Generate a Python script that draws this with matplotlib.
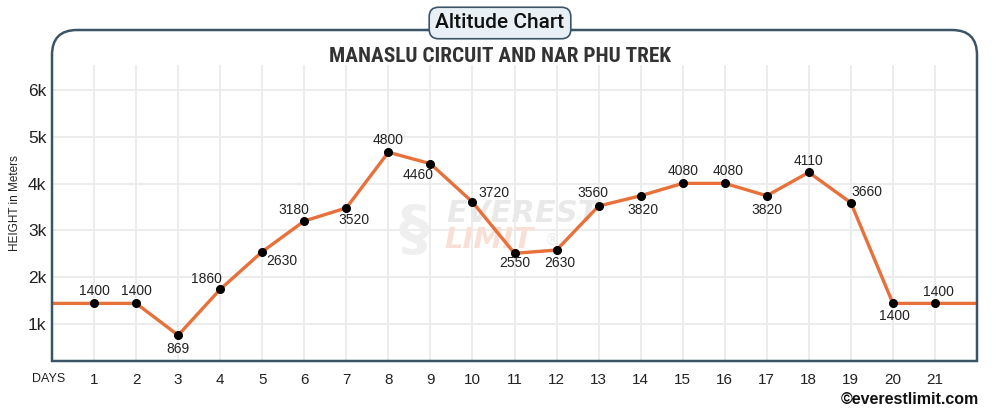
import numpy as np
import matplotlib
matplotlib.use("Agg")
import matplotlib.pyplot as plt
from matplotlib.path import Path
from matplotlib.patches import PathPatch
from matplotlib import font_manager

# data
days = list(range(1, 22))
heights = [1440, 1440, 760, 1740, 2545, 3200, 3480, 4670, 4425, 3605,
           2510, 2580, 3520, 3740, 4005, 4005, 3740, 4240, 3590, 1440, 1440]
labels = ["1400", "1400", "869", "1860", "2630", "3180", "3520", "4800", "4460", "3720",
          "2550", "2630", "3560", "3820", "4080", "4080", "3820", "4110", "3660", "1400", "1400"]
yticks = [1000, 2000, 3000, 4000, 5000, 6000]
ytick_labels = ["1k", "2k", "3k", "4k", "5k", "6k"]

# label offsets in pixels (dx, dy up)
offs = [(0, 12), (0, 12), (0, -14), (-14, 10), (20, -9), (-10, 11), (8, -12), (0, 12),
        (-12, -11), (22, 9), (0, -10), (3, -13), (-6, 13), (2, -14), (0, 12), (3, 12),
        (0, -14), (0, 11), (16, 11), (2, -13), (3, 11)]

W, H = 1000, 408
fig = plt.figure(figsize=(10, 4.08), dpi=100)
frame_col = "#3b5567"
line_col = "#e8703a"


def pick_condensed():
    cands = [dict(family="Liberation Sans Narrow", stretch="normal"),
             dict(family="Roboto Condensed", stretch="normal"),
             dict(family="DejaVu Sans", stretch="condensed"),
             dict(family="Roboto", stretch="condensed")]
    for c in cands:
        fp = font_manager.FontProperties(family=c["family"], stretch=c["stretch"], weight="bold")
        try:
            f = font_manager.findfont(fp, fallback_to_default=False)
        except Exception:
            continue
        if c["stretch"] == "condensed" and "ondensed" not in f:
            continue
        return c
    return dict(family="DejaVu Sans", stretch="normal")


ax = fig.add_axes([52 / W, 1 - 361 / H, 925 / W, 296 / H])
ax.set_xlim(0, 22)
ax.set_ylim(209, 6534)
for s in ax.spines.values():
    s.set_visible(False)

# grid
for y in yticks:
    ax.axhline(y, color="#ebebeb", lw=1.3, zorder=0)
for d in days:
    ax.axvline(d, color="#ebebeb", lw=1.3, zorder=0)

# watermark
ax.text(11.2, 3370, "EVEREST", fontsize=22, fontweight="bold", style="italic",
        color="#e9e9e9", ha="center", va="center", zorder=1, family="DejaVu Sans")
ax.text(10.4, 2790, "LIMIT", fontsize=21, fontweight="bold", style="italic",
        color="#f9e0d6", ha="center", va="center", zorder=1, family="DejaVu Sans")
ax.text(11.9, 2780, "®", fontsize=11, color="#ececec", ha="center", va="center", zorder=1)
ax.text(8.6, 2950, "§", fontsize=44, fontweight="bold", color="#efefef",
        ha="center", va="center", zorder=1)

# line
xs = [0] + days + [22]
ys = [heights[0]] + heights + [heights[-1]]
ax.plot(xs, ys, color=line_col, lw=2.4, zorder=3, solid_joinstyle="round")
ax.plot(days, heights, "o", color="black", ms=5.5, zorder=4)

for d, h, lab, (dx, dy) in zip(days, heights, labels, offs):
    ax.annotate(lab, (d, h), xytext=(dx * 0.72, dy * 0.72), textcoords="offset points",
                ha="center", va="center", fontsize=10, color="#222222",
                family="Liberation Sans", zorder=5)

ax.set_yticks(yticks)
ax.set_yticklabels(ytick_labels, fontsize=12.5, family="Liberation Sans", color="#222222")
ax.set_xticks(days)
ax.set_xticklabels([str(d) for d in days], fontsize=11, family="Liberation Sans", color="#222222")
ax.tick_params(axis="both", length=0)
ax.tick_params(axis="y", pad=4)
ax.tick_params(axis="x", pad=9)

fig.text(15 / W, 1 - 203 / H, "HEIGHT in Meters", rotation=90, ha="center", va="center",
         fontsize=8.5, family="Liberation Sans", color="#222222")
fig.text(49 / W, 1 - 379 / H, "DAYS", ha="center", va="center",
         fontsize=9, family="Liberation Sans", color="#222222")

# frame with rounded top corners
r = 25
pts = [(52, 361), (52, 30 + r), (52, 30), (52 + r, 30), (977 - r, 30), (977, 30),
       (977, 30 + r), (977, 361), (52, 361)]
codes = [Path.MOVETO, Path.LINETO, Path.CURVE3, Path.CURVE3, Path.LINETO,
         Path.CURVE3, Path.CURVE3, Path.LINETO, Path.CLOSEPOLY]
verts = [(x / W, 1 - y / H) for x, y in pts]
fig.patches.append(PathPatch(Path(verts, codes), transform=fig.transFigure,
                             facecolor="none", edgecolor=frame_col, lw=1.8, zorder=1))

fig.text(0.5, 1 - 23 / H, "Altitude Chart", ha="center", va="center", fontsize=15,
         family="Roboto", fontweight="medium", color="#111111", zorder=5,
         bbox=dict(boxstyle="round,pad=0.3,rounding_size=0.45", facecolor="#e8f0f6",
                   edgecolor=frame_col, lw=1.2))

cf = pick_condensed()
sub = fig.text(0.5, 1 - 57 / H, "MANASLU CIRCUIT AND NAR PHU TREK", ha="center", va="center",
               fontsize=16.5, family=cf["family"], fontstretch=cf["stretch"],
               fontweight="bold", color="#333333")
# shrink to the reference width if the font is too wide
fig.canvas.draw()
wpx = sub.get_window_extent().width
if wpx > 345:
    sub.set_fontsize(16.5 * 341 / wpx)

fig.text(979 / W, 1 - 399 / H, "\u00a9everestlimit.com", ha="right", va="center",
         fontsize=11.5, family="Liberation Sans", fontweight="bold", color="#111111")

fig.savefig("out.png", dpi=100)
